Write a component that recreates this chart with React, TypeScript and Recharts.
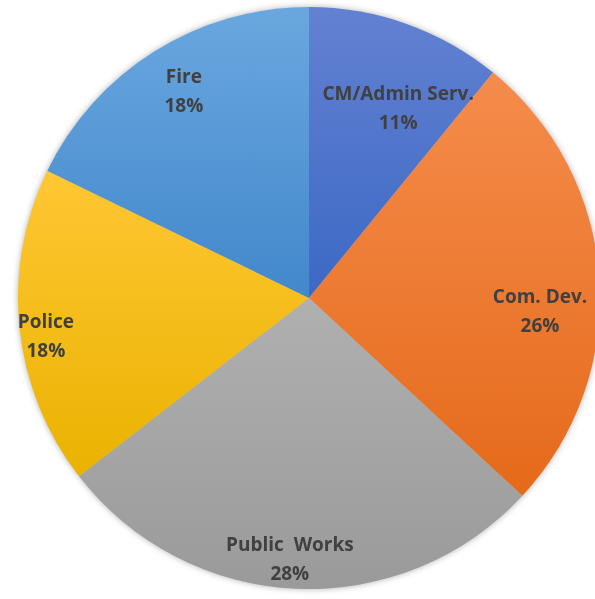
import React from 'react';
import { PieChart, Pie, Cell } from 'recharts';

// department share of budget, clockwise from 12 o'clock
const departments = ['CM/Admin Serv.', 'Com. Dev.', 'Public  Works', 'Police', 'Fire'];
const shares = [10.9, 26.0, 27.6, 17.7, 17.8];

// gradient stops per slice (top -> bottom)
const topColors = ['#6381D2', '#F58C4C', '#B0B0B0', '#FFC733', '#6AA7DF'];
const bottomColors = ['#3C69C4', '#E56A1A', '#9A9A9A', '#EAB200', '#4288CB'];

// best-fit label placement: radius factor and angle nudge (deg, clockwise)
const labelRadius = [0.724, 0.795, 0.896, 0.913, 0.834];
const labelNudge = [5.4, 7, 1.7, -2, 1];

const data = departments.map((name, i) => ({ name, value: shares[i] }));

const RAD = Math.PI / 180;

const renderLabel = (props: any) => {
  const { cx, cy, midAngle, outerRadius, index, name, value } = props;
  const ang = midAngle - labelNudge[index];
  const r = outerRadius * labelRadius[index];
  const x = cx + r * Math.cos(-ang * RAD);
  const y = cy + r * Math.sin(-ang * RAD);
  return (
    <text
      x={x}
      y={y}
      textAnchor="middle"
      fill="#404040"
      fontFamily="'Open Sans', sans-serif"
      fontWeight="bold"
      fontSize={19}
      style={{ whiteSpace: 'pre' }}
    >
      <tspan x={x} dy={-7}>{name}</tspan>
      <tspan x={x} dy={29}>{`${Math.round(value)}%`}</tspan>
    </text>
  );
};

export default function App() {
  return (
    <div style={{ position: 'absolute', left: 0, top: 0, width: 595, height: 599, background: '#fff' }}>
      <PieChart
        width={595}
        height={599}
        margin={{ top: 0, right: 0, bottom: 0, left: 0 }}
        style={{ filter: 'drop-shadow(0 0 3px rgba(0,0,0,0.3))' }}
      >
        <defs>
          {departments.map((_, i) => (
            <linearGradient key={i} id={`slice${i}`} x1="0" y1="0" x2="0" y2="1">
              <stop offset="0%" stopColor={topColors[i]} />
              <stop offset="100%" stopColor={bottomColors[i]} />
            </linearGradient>
          ))}
        </defs>
        <Pie
          data={data}
          dataKey="value"
          nameKey="name"
          cx={309}
          cy={298}
          outerRadius={291}
          startAngle={90}
          endAngle={-270}
          stroke="none"
          label={renderLabel}
          labelLine={false}
          isAnimationActive={false}
        >
          {data.map((_, i) => (
            <Cell key={i} fill={`url(#slice${i})`} />
          ))}
        </Pie>
      </PieChart>
    </div>
  );
}
